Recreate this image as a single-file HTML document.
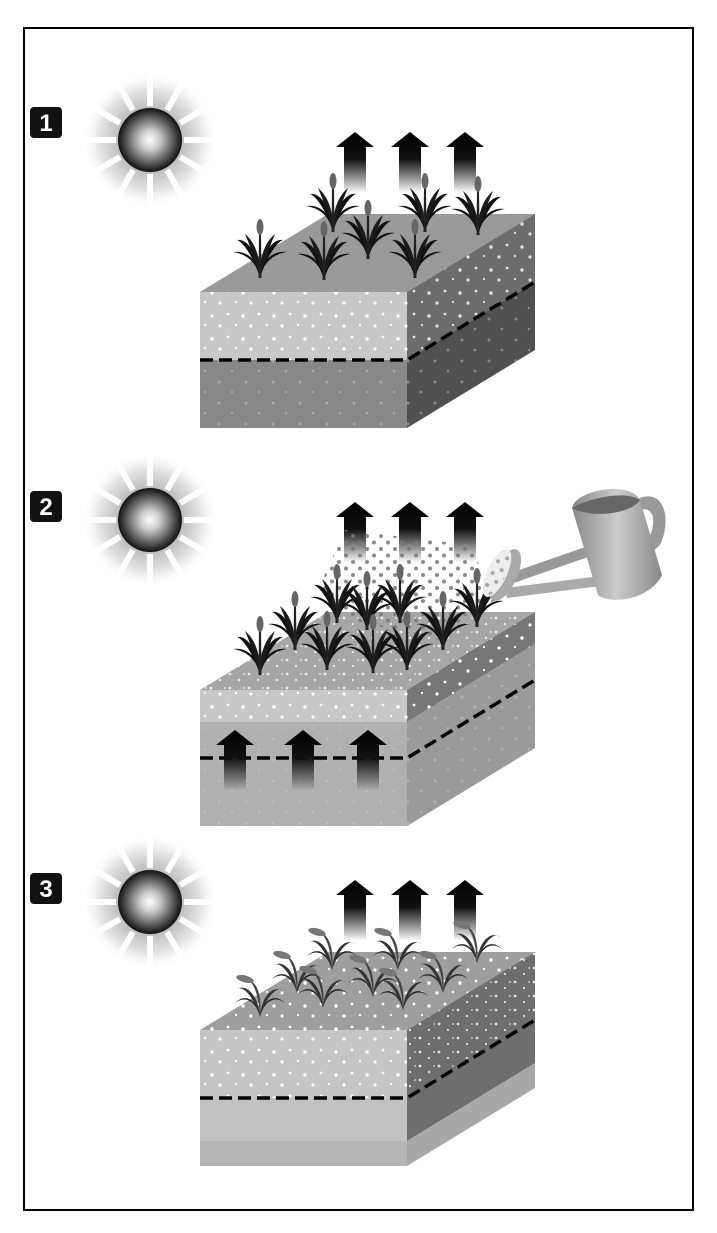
<!DOCTYPE html>
<html><head><meta charset="utf-8"><style>
html,body{margin:0;padding:0;background:#fff}
svg{display:block}
</style></head><body>
<svg width="717" height="1233" viewBox="0 0 717 1233" xmlns="http://www.w3.org/2000/svg">
<defs>
<radialGradient id="sun" cx="0.5" cy="0.5" r="0.5">
<stop offset="0" stop-color="#fff"/><stop offset="0.3" stop-color="#ccc"/><stop offset="1" stop-color="#111"/>
</radialGradient>
<radialGradient id="glow" cx="0.5" cy="0.5" r="0.5">
<stop offset="0.45" stop-color="#bbb"/><stop offset="0.75" stop-color="#e4e4e4"/><stop offset="1" stop-color="#fff" stop-opacity="0"/>
</radialGradient>
<linearGradient id="arr" x1="0" y1="0" x2="0" y2="1">
<stop offset="0" stop-color="#000"/><stop offset="0.45" stop-color="#111"/><stop offset="1" stop-color="#000" stop-opacity="0.02"/>
</linearGradient>
<pattern id="dotsW" width="31" height="23" patternUnits="userSpaceOnUse">
<circle cx="3" cy="4" r="1.6" fill="#fff"/><circle cx="19" cy="3" r="1.1" fill="#fff"/><circle cx="11" cy="15" r="1.4" fill="#fff"/><circle cx="26" cy="17" r="1.7" fill="#fff"/>
</pattern>
<pattern id="dotsF" width="27" height="21" patternUnits="userSpaceOnUse">
<circle cx="3" cy="4" r="1.5" fill="#ccc" opacity="0.45"/><circle cx="16" cy="14" r="1.3" fill="#ccc" opacity="0.45"/>
</pattern>
<pattern id="dotsD" width="19" height="14" patternUnits="userSpaceOnUse">
<circle cx="2" cy="2" r="1.4" fill="#fff"/><circle cx="11" cy="8" r="1.1" fill="#fff"/><circle cx="16" cy="2" r="0.9" fill="#fff"/>
</pattern>
<pattern id="spray" width="14" height="13" patternUnits="userSpaceOnUse">
<circle cx="3" cy="3" r="2" fill="#777"/><circle cx="10" cy="9.5" r="2" fill="#777"/>
</pattern>
<linearGradient id="can" x1="0" y1="0" x2="1" y2="0">
<stop offset="0" stop-color="#888"/><stop offset="0.5" stop-color="#ccc"/><stop offset="1" stop-color="#888"/>
</linearGradient>
<g id="plant">
<path d="M25 60 C22 45 12 36 -2 34 C10 32 23 40 25 60Z" fill="#111"/>
<path d="M25 60 C28 45 38 36 52 34 C40 32 27 40 25 60Z" fill="#111"/>
<path d="M25 60 C18 38 8 24 2 22 C12 20 24 36 25 60Z" fill="#111"/>
<path d="M25 60 C32 38 42 24 48 22 C38 20 26 36 25 60Z" fill="#111"/>
<path d="M25 60 C20 42 16 30 10 16 C20 24 26 40 25 60Z" fill="#1a1a1a"/>
<path d="M25 60 C30 42 34 30 40 16 C30 24 24 40 25 60Z" fill="#1a1a1a"/>
<path d="M23.5 60 L24 14 L26 14 L26.5 60Z" fill="#222"/>
<ellipse cx="25" cy="9" rx="3.5" ry="8" fill="#666"/>
</g>
<g id="plant3">
<path d="M25 50 C21 34 10 28 0 36 C10 26 22 32 25 50Z" fill="#222"/>
<path d="M25 50 C29 34 40 28 50 36 C40 26 28 32 25 50Z" fill="#222"/>
<path d="M25 50 C19 30 8 18 2 22 C12 16 24 30 25 50Z" fill="#333"/>
<path d="M25 50 C31 30 42 18 48 24 C38 17 26 30 25 50Z" fill="#333"/>
<path d="M25 50 C24 30 20 18 13 12 C23 16 27 30 25 50Z" fill="#444"/>
<ellipse cx="10" cy="12" rx="9" ry="3.5" fill="#777" transform="rotate(15 10 12)"/>
</g>
<g id="arrowUp">
<path d="M-19 15 L0 0 L19 15 L11 15 L11 60 L-11 60 L-11 15Z" fill="url(#arr)"/>
</g>
<g id="sunG">
<circle r="68" fill="url(#glow)"/>
<g stroke="#fff" stroke-width="6">
<line x1="0" y1="-70" x2="0" y2="-34"/><line x1="0" y1="70" x2="0" y2="34"/>
<line x1="-70" y1="0" x2="-34" y2="0"/><line x1="70" y1="0" x2="34" y2="0"/>
<line x1="-35" y1="-61" x2="-17" y2="-30"/><line x1="35" y1="-61" x2="17" y2="-30"/>
<line x1="-35" y1="61" x2="-17" y2="30"/><line x1="35" y1="61" x2="17" y2="30"/>
<line x1="-61" y1="-35" x2="-30" y2="-17"/><line x1="61" y1="-35" x2="30" y2="-17"/>
<line x1="-61" y1="35" x2="-30" y2="17"/><line x1="61" y1="35" x2="30" y2="17"/>
</g>
<circle r="32" fill="url(#sun)"/>
</g>
</defs>

<rect x="24" y="28" width="669" height="1182" fill="none" stroke="#000" stroke-width="2"/>

<use href="#sunG" x="150" y="140"/>
<use href="#sunG" x="150" y="520"/>
<use href="#sunG" x="150" y="902"/>
<g font-family="Liberation Sans, sans-serif" font-weight="bold" font-size="24" fill="#fff" text-anchor="middle">
<rect x="30" y="107" width="32" height="31" rx="4" fill="#111"/><text x="46" y="131">1</text>
<rect x="30" y="491" width="32" height="31" rx="4" fill="#111"/><text x="46" y="515">2</text>
<rect x="30" y="873" width="32" height="31" rx="4" fill="#111"/><text x="46" y="897">3</text>
</g>

<!-- PANEL 1 -->
<polygon points="200,292 407,292 535,214 328,214" fill="#9a9a9a"/>
<rect x="200" y="292" width="207" height="68" fill="#c8c8c8"/>
<rect x="200" y="292" width="207" height="68" fill="url(#dotsW)"/>
<rect x="200" y="360" width="207" height="68" fill="#888"/>
<rect x="200" y="360" width="207" height="68" fill="url(#dotsF)"/>
<polygon points="407,292 535,214 535,282 407,360" fill="#6c6c6c"/>
<polygon points="407,292 535,214 535,282 407,360" fill="url(#dotsW)" opacity="0.8"/>
<polygon points="407,360 535,282 535,350 407,428" fill="#505050"/>
<polygon points="407,360 535,282 535,350 407,428" fill="url(#dotsF)"/>
<polyline points="200,360 407,360 535,282" fill="none" stroke="#000" stroke-width="3.5" stroke-dasharray="13,6"/>
<use href="#arrowUp" x="355" y="132"/><use href="#arrowUp" x="410" y="132"/><use href="#arrowUp" x="465" y="132"/>
<use href="#plant" x="308" y="172"/><use href="#plant" x="400" y="172"/><use href="#plant" x="453" y="175"/>
<use href="#plant" x="235" y="218"/><use href="#plant" x="299" y="220"/><use href="#plant" x="343" y="199"/><use href="#plant" x="390" y="218"/>

<!-- PANEL 2 -->
<polygon points="200,690 407,690 535,612 328,612" fill="#a6a6a6"/>
<polygon points="200,690 407,690 535,612 328,612" fill="url(#dotsD)" opacity="0.8"/>
<rect x="200" y="690" width="207" height="32" fill="#c8c8c8"/>
<rect x="200" y="690" width="207" height="32" fill="url(#dotsW)"/>
<rect x="200" y="722" width="207" height="104" fill="#b0b0b0"/>
<rect x="200" y="722" width="207" height="104" fill="url(#dotsF)"/>
<polygon points="407,690 535,612 535,644 407,722" fill="#777"/>
<polygon points="407,690 535,612 535,644 407,722" fill="url(#dotsW)"/>
<polygon points="407,722 535,644 535,748 407,826" fill="#9a9a9a"/>
<polygon points="407,722 535,644 535,748 407,826" fill="url(#dotsF)"/>
<polyline points="200,758 407,758 535,680" fill="none" stroke="#000" stroke-width="3.5" stroke-dasharray="13,6"/>
<use href="#arrowUp" x="235" y="730"/><use href="#arrowUp" x="303" y="730"/><use href="#arrowUp" x="368" y="730"/>
<use href="#arrowUp" x="355" y="502"/><use href="#arrowUp" x="410" y="502"/><use href="#arrowUp" x="465" y="502"/>
<polygon points="320,585 345,530 470,545 495,600 440,640 350,620" fill="url(#spray)" opacity="0.85"/>
<use href="#plant" x="312" y="563"/><use href="#plant" x="375" y="563"/><use href="#plant" x="452" y="567"/>
<use href="#plant" x="270" y="590"/><use href="#plant" x="342" y="570"/><use href="#plant" x="418" y="590"/>
<use href="#plant" x="235" y="615"/><use href="#plant" x="302" y="610"/><use href="#plant" x="348" y="613"/><use href="#plant" x="382" y="610"/>
<!-- watering can -->
<g>
<path d="M505 575 L605 540 L608 550 L508 585Z" fill="#999"/>
<path d="M505 588 L608 575 L608 585 L507 598Z" fill="#aaa"/>
<path d="M635 500 C665 485 672 520 660 545 L652 552 L645 545 C658 525 655 505 640 510Z" fill="#999"/>
<path d="M572 508 C575 490 630 480 640 500 L662 575 C650 600 610 605 598 595Z" fill="url(#can)"/>
<path d="M572 508 C590 498 625 490 640 500 C630 515 590 518 572 508Z" fill="#666"/>
<ellipse cx="505" cy="575" rx="12" ry="28" transform="rotate(25 505 575)" fill="#aaa"/>
<ellipse cx="497" cy="573" rx="10" ry="26" transform="rotate(25 497 573)" fill="#eee"/>
<ellipse cx="497" cy="573" rx="9" ry="24" transform="rotate(25 497 573)" fill="url(#spray)" opacity="0.6"/>
</g>

<!-- PANEL 3 -->
<polygon points="200,1030 407,1030 535,952 328,952" fill="#9e9e9e"/>
<polygon points="200,1030 407,1030 535,952 328,952" fill="url(#dotsW)"/>
<rect x="200" y="1030" width="207" height="68" fill="#c6c6c6"/>
<rect x="200" y="1030" width="207" height="68" fill="url(#dotsW)"/>
<rect x="200" y="1098" width="207" height="43" fill="#c2c2c2"/>
<rect x="200" y="1141" width="207" height="25" fill="#b4b4b4"/>
<polygon points="407,1030 535,952 535,1063 407,1141" fill="#6e6e6e"/>
<polygon points="407,1030 535,952 535,1020 407,1098" fill="url(#dotsD)" opacity="0.8"/>
<polygon points="407,1141 535,1063 535,1088 407,1166" fill="#a8a8a8"/>
<polyline points="200,1098 407,1098 535,1020" fill="none" stroke="#000" stroke-width="3.5" stroke-dasharray="13,6"/>
<use href="#arrowUp" x="355" y="880"/><use href="#arrowUp" x="410" y="880"/><use href="#arrowUp" x="465" y="880"/>
<use href="#plant3" x="307" y="920"/><use href="#plant3" x="373" y="920"/><use href="#plant3" x="452" y="913"/>
<use href="#plant3" x="272" y="943"/><use href="#plant3" x="348" y="947"/><use href="#plant3" x="418" y="943"/>
<use href="#plant3" x="235" y="967"/><use href="#plant3" x="298" y="958"/><use href="#plant3" x="378" y="960"/>
</svg>
</body></html>
